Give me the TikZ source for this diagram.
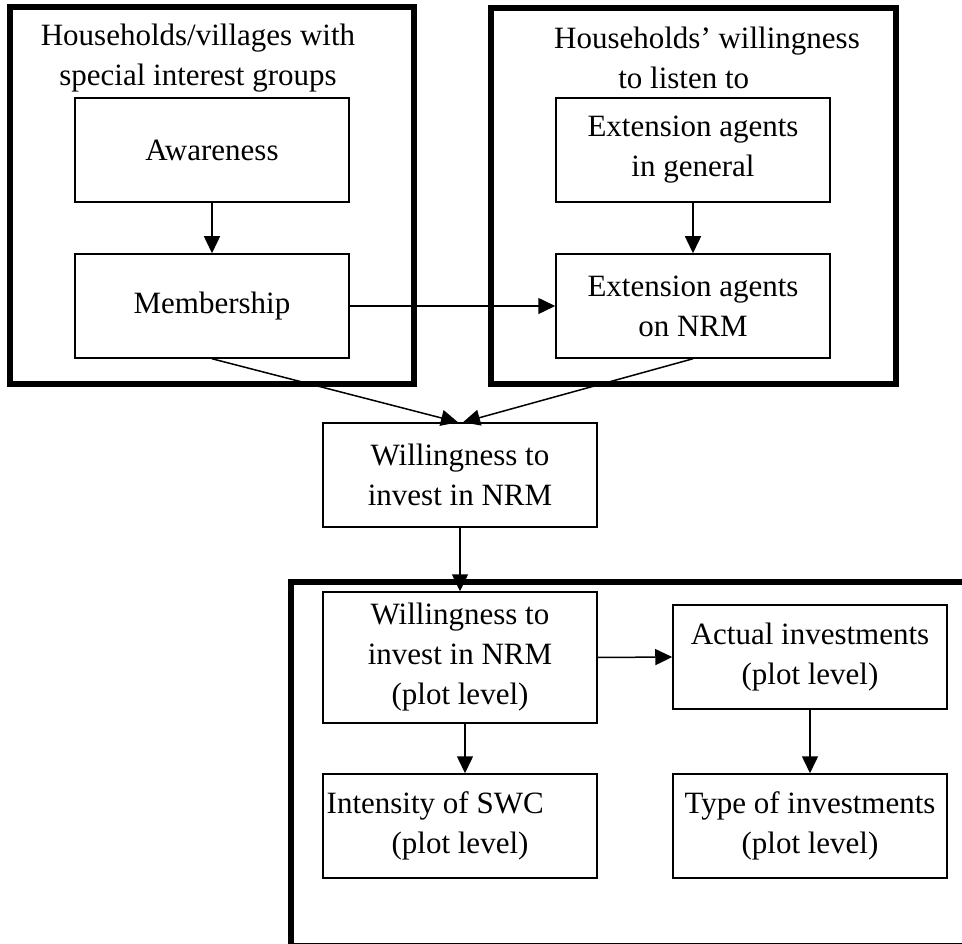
\documentclass[tikz,border=0pt]{standalone}
\usepackage{fontspec}
\setmainfont{Liberation Serif}
\usetikzlibrary{arrows.meta}

\begin{document}
\begin{tikzpicture}[x=1pt,y=-1pt,
				font=\fontsize{31}{40}\selectfont,
				box/.style={draw,line width=1.5pt,minimum width=274pt,minimum height=104pt,inner sep=0pt,align=center},
				frame/.style={line width=6pt},
				link/.style={line width=1.5pt,-{Triangle[length=17pt,width=16pt]}}]
				\useasboundingbox (0,0) rectangle (962,944);
				
				% thick frames
				\draw[frame] (10,7) rectangle (414,384);
				\draw[frame] (491,8) rectangle (896,384);
				\draw[frame] (291,582) rectangle (980,946);
				
				% frame titles
				\node[align=center] (hhtitle) at (198,58) {Households/villages with\\special interest groups};
				\node[align=center] (listentitle) at (707,58) {Households' willingness\\to listen to\hspace*{1.5em}};
				
				% left frame
				\node[box] (aware) at (212,150) {Awareness};
				\node[box] (member) at (212,306) {Membership};
				
				% right frame
				\node[box] (extgen) at (693,150) {Extension agents\\in general};
				\node[box] (extnrm) at (693,306) {Extension agents\\on NRM};
				
				% middle
				\node[box] (wmid) at (460,475) {Willingness to\\invest in NRM};
				
				% bottom frame
				\node[box,minimum height=131pt] (wplot) at (460,657.5) {Willingness to\\invest in NRM\\(plot level)};
				\node[box] (actual) at (810,657) {Actual investments\\(plot level)};
				\node[box] (swc) at (460,826) {Intensity of SWC\hspace*{1.6em}\\(plot level)};
				\node[box] (invtype) at (810,826) {Type of investments\\(plot level)};
				
				\foreach \x/\y in
				{aware.south/member.north, extgen.south/extnrm.north, member.east/extnrm.west,
				 wmid.south/wplot.north, wplot.east/actual.west, actual.south/invtype.north}{
					\draw[link] (\x) -- (\y);
				}
				\draw[link] (member.south) -- ([xshift=-2pt]wmid.north);
				\draw[link] (extnrm.south) -- ([xshift=3pt]wmid.north);
				\draw[link] ([xshift=5pt]wplot.south) -- ([xshift=5pt]swc.north);
			\end{tikzpicture}
\end{document}
